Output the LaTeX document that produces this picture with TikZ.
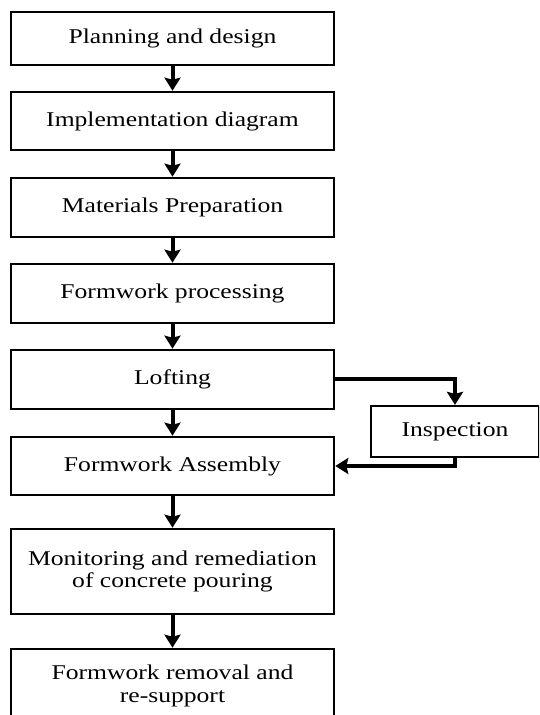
\documentclass[tikz,border=0pt]{standalone}
\usepackage{fontspec}
\setmainfont[FakeStretch=1.22]{Liberation Serif}
\usetikzlibrary{arrows.meta}
\tikzset{
  stage/.style={draw, line width=2.6pt, minimum width=323pt, minimum height=59pt,
    inner sep=0pt, align=center, font=\fontsize{21}{22.5}\selectfont},
  check/.style={stage, line width=2.2pt, minimum width=168pt, minimum height=51pt},
  flow/.style={line width=4pt, -{Stealth[length=13pt,width=16pt,inset=2pt]}}
}
\begin{document}
\begin{tikzpicture}[x=1pt, y=1pt]
  \useasboundingbox (0,0) rectangle (539,715);
  \clip (0,0) rectangle (539,715);
  % main sequence
  \node [stage, minimum height=53pt] (plan) at (172.5,676.5) {Planning and design};
  \node [stage, minimum height=58pt] (impl) at (172.5,594) {Implementation diagram};
  \node [stage] (mat) at (172.5,507.5) {Materials Preparation};
  \node [stage] (proc) at (172.5,421.5) {Formwork processing};
  \node [stage] (loft) at (172.5,335.5) {Lofting};
  \node [stage, minimum height=58pt] (asm) at (172.5,249) {Formwork Assembly};
  \node [stage, minimum height=85pt] (mon) at (172.5,143.5)
    {Monitoring and remediation\\of concrete pouring};
  \node [stage, minimum height=74pt] (rem) at (172.5,29)
    {Formwork removal and\\re-support};
  % side check
  \node [check] (insp) at (455,283.5) {Inspection};
  \draw [flow] (plan) -- (impl);
  \draw [flow] (impl) -- (mat);
  \draw [flow] (mat) -- (proc);
  \draw [flow] (proc) -- (loft);
  \draw [flow] (loft) -- (asm);
  \draw [flow] (asm) -- (mon);
  \draw [flow] (mon) -- (rem);
  \draw [flow] (loft.east) -| (insp.north);
  \draw [flow] (insp.south) |- (asm.east);
\end{tikzpicture}
\end{document}
